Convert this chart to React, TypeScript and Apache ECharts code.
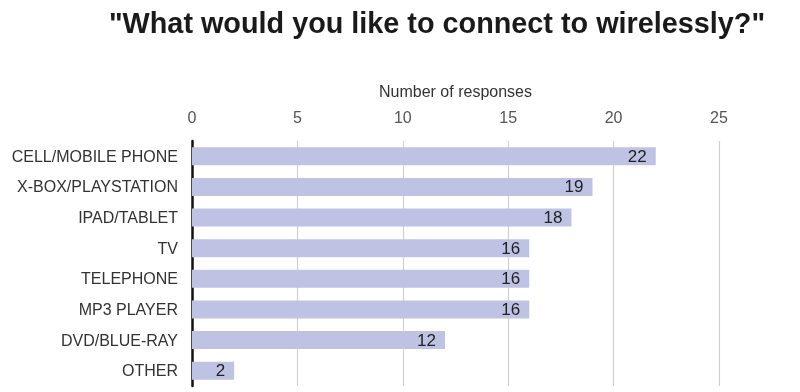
import React, { useEffect, useRef } from "react";
import * as echarts from "echarts";

const categories = [
  "CELL/MOBILE PHONE",
  "X-BOX/PLAYSTATION",
  "IPAD/TABLET",
  "TV",
  "TELEPHONE",
  "MP3 PLAYER",
  "DVD/BLUE-RAY",
  "OTHER",
];
const responses = [22, 19, 18, 16, 16, 16, 12, 2];
const titleText = '"What would you like to connect to wirelessly?"';
const axisName = "Number of responses";

export default function App() {
  const ref = useRef<HTMLDivElement>(null);
  useEffect(() => {
    if (!ref.current) return;
    const chart = echarts.init(ref.current, undefined, { renderer: "svg" });
    const font = "'Liberation Sans', Arial, Helvetica, sans-serif";
    chart.setOption({
      animation: false,
      textStyle: { fontFamily: font },
      title: {
        text: titleText,
        left: 432,
        textAlign: "center",
        top: 3,
        textStyle: { fontSize: 28.8, fontWeight: "bold", color: "#1a1a1a", fontFamily: font },
      },
      grid: { left: 192, right: 81, top: 141, bottom: 6, containLabel: false },
      xAxis: {
        type: "value",
        position: "top",
        min: 0,
        max: 25,
        interval: 5,
        name: axisName,
        nameLocation: "middle",
        nameGap: 42,
        nameTextStyle: { fontSize: 16, color: "#333" },
        axisLine: { show: false },
        axisTick: { show: false },
        axisLabel: { fontSize: 16, color: "#555", margin: 16 },
        splitLine: { show: true, lineStyle: { color: "#d0d0d0", width: 1.2 } },
      },
      yAxis: {
        type: "category",
        data: categories,
        inverse: true,
        axisLine: { show: true, lineStyle: { color: "#111", width: 2.5 } },
        axisTick: { show: false },
        axisLabel: { fontSize: 16, color: "#333", margin: 14 },
      },
      series: [
        {
          type: "bar",
          data: responses,
          barCategoryGap: "41%",
          itemStyle: { color: "#bfc3e3" },
          label: {
            show: true,
            position: "insideRight",
            distance: 9,
            fontSize: 17,
            color: "#222",
          },
        },
      ],
    });
    return () => chart.dispose();
  }, []);
  return (
    <div
      ref={ref}
      style={{ position: "fixed", left: 0, top: 0, width: 800, height: 392 }}
    />
  );
}
